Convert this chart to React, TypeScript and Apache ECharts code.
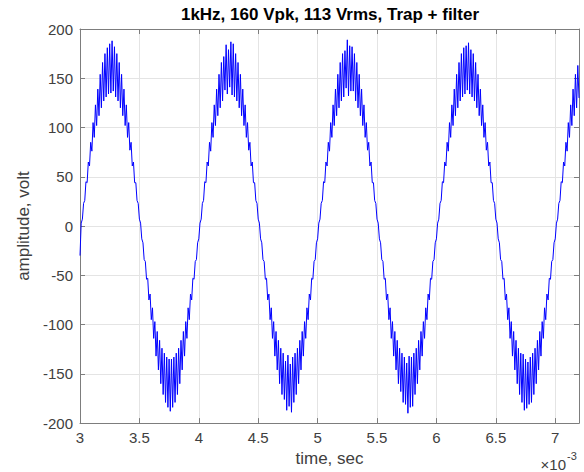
import React, { useEffect, useRef } from "react";
import * as echarts from "echarts";

// Sample grid of the recorded waveform (time in ms, ×10^-3 s)
const startMs = 3;
const stepMs = 0.01;

// Voltage samples (V), one array per period
const firstSample = [-30];
const period1 = [3,7,23,26,45,44,65,61,85,76,105,90,123,102,139,112,154,120,166,127,175,131,181,134,185,135,188,137,182,131,175,127,166,120,154,112,139,102,123,90,105,77,85,61,65,44,44,26,23,7,3,-13,-17,-34,-36,-54,-53,-75,-69,-95,-83,-114,-97,-132,-107,-146,-116,-160,-124,-171,-129,-179,-133,-184,-135,-188,-135,-184,-133,-179,-129,-171,-124,-160,-116,-146,-107,-132,-97,-114,-83,-95,-69,-75,-53,-54,-36,-34,-17,-13];
const period2 = [3,7,23,26,45,44,65,61,85,76,105,90,123,102,139,112,154,120,166,127,172,138,184,134,179,141,187,133,185,131,175,127,166,120,154,112,139,102,123,90,105,77,85,61,65,44,44,26,23,7,3,-13,-17,-34,-36,-54,-53,-75,-69,-95,-83,-114,-97,-132,-107,-146,-116,-160,-124,-171,-129,-176,-137,-187,-131,-183,-140,-189,-133,-179,-129,-171,-124,-160,-116,-146,-107,-132,-97,-114,-83,-95,-69,-75,-53,-54,-36,-34,-17,-13];
const period3 = [3,7,23,26,45,44,65,61,85,76,105,90,123,102,139,112,154,120,166,127,175,131,178,140,189,132,183,137,182,137,175,127,166,120,154,112,139,102,123,90,105,77,85,61,65,44,44,26,23,7,3,-13,-17,-34,-36,-54,-53,-75,-69,-95,-83,-114,-97,-132,-107,-146,-116,-160,-124,-168,-129,-179,-133,-181,-139,-190,-132,-184,-133,-183,-129,-171,-124,-160,-116,-146,-107,-132,-97,-114,-83,-95,-69,-75,-53,-54,-36,-34,-17,-13];
const period4 = [3,7,23,26,45,44,65,61,85,76,105,90,123,102,139,112,154,120,166,127,175,131,181,134,183,138,186,134,179,131,175,127,166,120,154,112,139,102,123,90,105,77,85,61,65,44,44,26,23,7,3,-13,-17,-34,-36,-54,-53,-75,-69,-95,-83,-114,-97,-132,-107,-146,-116,-160,-124,-171,-129,-179,-130,-187,-135,-185,-138,-181,-133,-179,-129,-171,-124,-160,-116,-146,-107,-132,-97,-114,-83,-95,-69,-75,-53,-54,-36,-34,-17,-13];
const period5Partial = [3,7,23,26,45,44,65,61,85,76,105,90,123,102,139,112,154,120,163,130];

const voltage = [...firstSample, ...period1, ...period2, ...period3, ...period4, ...period5Partial];

const xTicks = [3, 3.5, 4, 4.5, 5, 5.5, 6, 6.5, 7];
const xMin = 3;
const xMax = 7.2;
const yMin = -200;
const yMax = 200;

const titleText = "1kHz, 160 Vpk, 113 Vrms, Trap + filter";
const xName = "time, sec";
const yName = "amplitude, volt";

const FONT = "'Liberation Sans', Arial, Helvetica, sans-serif";

export default function App() {
  const ref = useRef<HTMLDivElement>(null);
  useEffect(() => {
    if (!ref.current) return;
    const chart = echarts.init(ref.current, undefined, { renderer: "svg" });
    const data = voltage.map((v, i) => [startMs + i * stepMs, v]);
    const axisGray = "#7d7d7d";
    const gridGray = "#e4e4e4";
    const labelColor = "#404040";
    chart.setOption({
      animation: false,
      backgroundColor: "#ffffff",
      textStyle: { fontFamily: FONT },
      grid: { left: 80, top: 29, width: 499, height: 395, containLabel: false },
      xAxis: [
        {
          type: "value",
          min: xMin,
          max: xMax,
          interval: 0.5,
          position: "bottom",
          name: xName,
          nameLocation: "middle",
          nameGap: 25,
          nameTextStyle: { color: labelColor, fontSize: 17, fontFamily: FONT },
          axisLine: { show: true, onZero: false, lineStyle: { color: axisGray, width: 1 } },
          axisTick: { show: true, inside: true, length: 5, lineStyle: { color: axisGray } },
          axisLabel: {
            color: labelColor,
            fontSize: 15,
            fontFamily: FONT,
            margin: 7,
            formatter: (v: number) => (xTicks.some((t) => Math.abs(t - v) < 1e-9) ? String(v) : ""),
          },
          splitLine: { show: true, lineStyle: { color: gridGray, width: 1 } },
        },
        {
          type: "value",
          min: xMin,
          max: xMax,
          interval: 0.5,
          position: "top",
          axisLine: { show: true, onZero: false, lineStyle: { color: axisGray, width: 1 } },
          axisTick: { show: true, inside: true, length: 5, lineStyle: { color: axisGray } },
          axisLabel: { show: false },
          splitLine: { show: false },
        },
      ],
      yAxis: [
        {
          type: "value",
          min: yMin,
          max: yMax,
          interval: 50,
          position: "left",
          name: yName,
          nameLocation: "middle",
          nameGap: 39,
          nameTextStyle: { color: labelColor, fontSize: 17, fontFamily: FONT },
          axisLine: { show: true, onZero: false, lineStyle: { color: axisGray, width: 1 } },
          axisTick: { show: true, inside: true, length: 5, lineStyle: { color: axisGray } },
          axisLabel: { color: labelColor, fontSize: 15, fontFamily: FONT, margin: 7 },
          splitLine: { show: true, lineStyle: { color: gridGray, width: 1 } },
        },
        {
          type: "value",
          min: yMin,
          max: yMax,
          interval: 50,
          position: "right",
          axisLine: { show: true, onZero: false, lineStyle: { color: axisGray, width: 1 } },
          axisTick: { show: true, inside: true, length: 5, lineStyle: { color: axisGray } },
          axisLabel: { show: false },
          splitLine: { show: false },
        },
      ],
      series: [
        {
          type: "line",
          xAxisIndex: 0,
          yAxisIndex: 0,
          data,
          showSymbol: false,
          symbol: "none",
          clip: true,
          lineStyle: { color: "#0000ff", width: 1 },
        },
      ],
      graphic: [
        {
          type: "text",
          x: 330,
          y: 14,
          style: {
            text: titleText,
            fill: "#000000",
            font: `bold 17px ${FONT}`,
            textAlign: "center",
            textVerticalAlign: "middle",
          },
        },
        {
          type: "text",
          x: 566,
          y: 464,
          style: {
            text: "×10",
            fill: labelColor,
            font: `15px ${FONT}`,
            textAlign: "right",
            textVerticalAlign: "middle",
          },
        },
        {
          type: "text",
          x: 567,
          y: 456,
          style: {
            text: "-3",
            fill: labelColor,
            font: `11px ${FONT}`,
            textAlign: "left",
            textVerticalAlign: "middle",
          },
        },
      ],
    });
    return () => chart.dispose();
  }, []);
  return (
    <div
      ref={ref}
      style={{ position: "fixed", left: 0, top: 0, width: 584, height: 472, background: "#fff" }}
    />
  );
}
